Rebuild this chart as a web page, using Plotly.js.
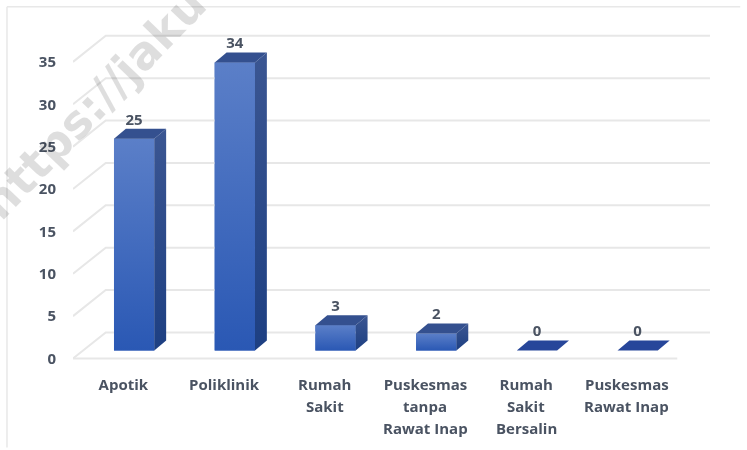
<!DOCTYPE html>
<html>
<head>
<meta charset="utf-8">
<script src="https://cdn.plot.ly/plotly-3.0.1.min.js"></script>
<style>html,body{margin:0;padding:0;background:#fff;overflow:hidden}#chart{width:747px;height:450px;filter:blur(0.4px)}</style>
</head>
<body>
<div id="chart"></div>
<script>
const categories = ["Apotik", "Poliklinik", "Rumah<br>Sakit", "Puskesmas<br>tanpa<br>Rawat Inap", "Rumah<br>Sakit<br>Bersalin", "Puskesmas<br>Rawat Inap"];
const values = [25, 34, 3, 2, 0, 0];
const yTicks = [0, 5, 10, 15, 20, 25, 30, 35];

// 3-D look, expressed in axis units
const barWidth = 0.40, barShift = 0.107, barBase = 0.94;
const depthX = 0.118, depthY = 1.18;
const wallX = 0.325, wallY = 3.08;
const xMin = -0.5, xMax = 5.5;

const textColor = "#4a5362";
const font = {family: "'Open Sans', 'Noto Sans', sans-serif", size: 15, color: textColor, weight: 700};

const traces = [];
const gridStyle = {color: "#e7e7e7", width: 2};
yTicks.forEach(v => {
  traces.push({type: "scatter", mode: "lines", hoverinfo: "skip", showlegend: false, line: gridStyle,
    x: [xMin, xMin + wallX, xMax + wallX], y: [v, v + wallY, v + wallY]});
});
traces.push({type: "scatter", mode: "lines", hoverinfo: "skip", showlegend: false, line: gridStyle,
  x: [xMin, xMax], y: [0, 0]});

// solid front faces: the real bars
traces.unshift({type: "bar", x: categories.map((_, i) => i + barShift), y: values, base: barBase,
  width: barWidth, marker: {color: "#3f69bd", line: {width: 0}}, showlegend: false, hoverinfo: "x+y"});

categories.forEach((_, i) => {
  const v = values[i];
  const l = i + barShift - barWidth / 2, r = i + barShift + barWidth / 2;
  const b = barBase, t = barBase + v;
  if (v > 0) {
    traces.push({type: "scatter", mode: "lines", line: {width: 0}, hoverinfo: "skip", showlegend: false, fill: "toself",
      x: [l, r, r, l, l], y: [b, b, t, t, b],
      fillgradient: {type: "vertical", colorscale: [[0, "#2a58b4"], [1, "#5b7fc8"]]}});
    traces.push({type: "scatter", mode: "lines", line: {width: 0}, hoverinfo: "skip", showlegend: false, fill: "toself",
      x: [r, r + depthX, r + depthX, r, r], y: [b, b + depthY, t + depthY, t, b],
      fillgradient: {type: "vertical", colorscale: [[0, "#1d3f82"], [1, "#3b5692"]]}});
  }
  traces.push({type: "scatter", mode: "lines", line: {width: 0}, hoverinfo: "skip", showlegend: false, fill: "toself",
    x: [l, r, r + depthX, l + depthX, l], y: [t, t, t + depthY, t + depthY, t],
    fillcolor: v > 0 ? "#34508f" : "#27469a"});
});

traces.push({type: "scatter", mode: "text", showlegend: false, hoverinfo: "skip",
  x: values.map((_, i) => i + barShift), y: values.map(v => v + barBase + depthY + 0.05),
  text: values.map(String), textposition: "top center", textfont: font, cliponaxis: false});

const lineGap = 22;
const lineAnnotations = [];
categories.forEach((c, i) => {
  c.split("<br>").slice(1).forEach((line, j) => {
    lineAnnotations.push({xref: "x", yref: "y", x: i, y: 0, text: line, showarrow: false,
      font, xanchor: "center", yanchor: "middle", yshift: -25 - lineGap * (j + 1)});
  });
});

const pxX = 100.67, pxY = 8.48;
const plotW = (xMax + wallX - xMin + 0.05) * pxX;
const layout = {
  width: 747, height: 450,
  margin: {l: 73, r: 747 - 73 - plotW, t: 359 - 39 * pxY, b: 450 - 359 - pxY},
  paper_bgcolor: "#fff", plot_bgcolor: "rgba(0,0,0,0)",
  showlegend: false,
  barmode: "overlay",
  xaxis: {
    range: [xMin, xMax + wallX + 0.05], tickmode: "array",
    tickvals: categories.map((_, i) => i),
    ticktext: categories.map(c => c.split("<br>")[0]),
    showgrid: false, zeroline: false, showline: false, ticks: "",
    tickfont: font, ticklabelstandoff: 7, tickangle: 0
  },
  yaxis: {
    range: [-1, 39], tickmode: "array", tickvals: yTicks, ticktext: yTicks.map(String),
    showgrid: false, zeroline: false, showline: false, ticks: "",
    tickfont: font, ticklabelstandoff: 16, ticklabelshift: 1.5
  },
  shapes: [
    {type: "line", xref: "paper", yref: "paper", layer: "below",
     x0: (7 - 73) / plotW, x1: (7 - 73) / plotW,
     y0: (359 + pxY - 448) / (40 * pxY), y1: (359 + pxY - 7) / (40 * pxY), line: {color: "#e8e8e8", width: 1.5}},
    {type: "line", xref: "paper", yref: "paper", layer: "below",
     x0: (7 - 73) / plotW, x1: (740 - 73) / plotW,
     y0: (359 + pxY - 7) / (40 * pxY), y1: (359 + pxY - 7) / (40 * pxY), line: {color: "#e8e8e8", width: 1.5}}
  ],
  annotations: lineAnnotations.concat([
    {xref: "paper", yref: "paper", showarrow: false, text: "<b>https://jaku</b>", textangle: -46,
     x: (93 - 73) / plotW, y: (359 + pxY - 104) / (40 * pxY),
     xanchor: "center", yanchor: "middle",
     font: {family: "'DejaVu Sans', sans-serif", size: 46, color: "rgba(0,0,0,0.13)"}}
  ])
};
Plotly.newPlot("chart", traces, layout, {displayModeBar: false, staticPlot: true});
</script>
</body>
</html>
